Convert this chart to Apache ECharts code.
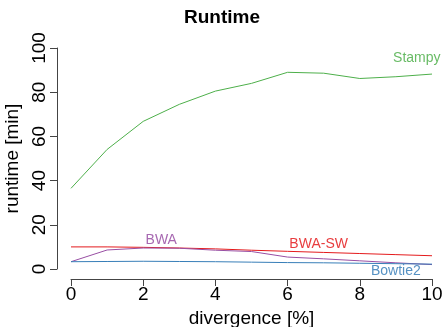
<!DOCTYPE html>
<html><head><meta charset="utf-8">
<script src="https://cdn.jsdelivr.net/npm/echarts@6/dist/echarts.min.js"></script>
<style>html,body{margin:0;padding:0;background:#fff}#c{width:444px;height:327px}</style>
</head><body><div id="c"></div>
<script>
const divergence = [0,1,2,3,4,5,6,7,8,9,10];
const stampy  = [36.5,54.1,66.8,74.5,80.5,84.0,89.0,88.6,86.2,87.0,88.2];
const bwaSW   = [10.0,10.0,9.8,9.5,9.1,8.5,8.0,7.5,7.0,6.5,6.0];
const bwa     = [3.3,8.6,9.5,9.4,8.5,7.9,5.4,4.6,3.7,2.8,2.0];
const bowtie2 = [3.3,3.4,3.5,3.4,3.3,3.1,2.9,2.8,2.6,2.4,2.2];
const xTicks = [0,2,4,6,8,10];
const yTicks = [0,20,40,60,80,100];
const names = ['Stampy','BWA-SW','BWA','Bowtie2'];
const colors = ['#4DAF4A','#E41A1C','#984EA3','#377EB8'];
const labelPos = [[9.58,95.5],[6.86,11.3],[2.5,13.1],[9.0,0]];
const labelShift = [[0,0],[0,0],[0,0],[0,2]];
const values = [stampy,bwaSW,bwa,bowtie2];
const font = 'Liberation Sans, Arial, sans-serif';

const chart = echarts.init(document.getElementById('c'), null, {renderer:'canvas'});
chart.setOption({
  animation:false,
  title:{text:'Runtime',left:'center',top:3,textStyle:{fontFamily:font,fontSize:19,fontWeight:'bold',color:'#000'}},
  grid:{left:71,right:12,top:48,bottom:58,containLabel:false,outerBoundsMode:'none'},
  xAxis:{type:'value',min:0,max:10,interval:2,offset:10,
    name:'divergence [%]',nameLocation:'middle',nameGap:27,
    nameTextStyle:{fontFamily:font,fontSize:19,color:'#000'},
    axisLine:{show:true,onZero:false,lineStyle:{color:'#444',width:1}},
    axisTick:{show:true,length:7,lineStyle:{color:'#444'}},
    axisLabel:{fontFamily:font,fontSize:19,color:'#000',margin:6,showMinLabel:true,showMaxLabel:true},
    splitLine:{show:false}},
  yAxis:{type:'value',min:0,max:100,interval:20,offset:14,
    name:'runtime [min]',nameLocation:'middle',nameGap:31,nameRotate:90,
    nameTextStyle:{fontFamily:font,fontSize:19,color:'#000'},
    axisLine:{show:true,onZero:false,lineStyle:{color:'#444',width:1}},
    axisTick:{show:true,length:7,lineStyle:{color:'#444'}},
    axisLabel:{fontFamily:font,fontSize:19,color:'#000',margin:8,rotate:90,align:'center',verticalAlign:'bottom'},
    splitLine:{show:false}},
  series: names.map((n,i)=>({
    name:n,type:'line',symbol:'none',clip:false,
    data:divergence.map((x,j)=>[x,values[i][j]]),
    lineStyle:{color:colors[i],width:1},
    markPoint:{symbol:'circle',symbolSize:0,
      data:[{coord:labelPos[i],value:n}],
      label:{show:true,position:'inside',offset:labelShift[i],formatter:n,fontFamily:font,fontSize:14,color:colors[i],opacity:0.85}}
  }))
});
</script></body></html>
